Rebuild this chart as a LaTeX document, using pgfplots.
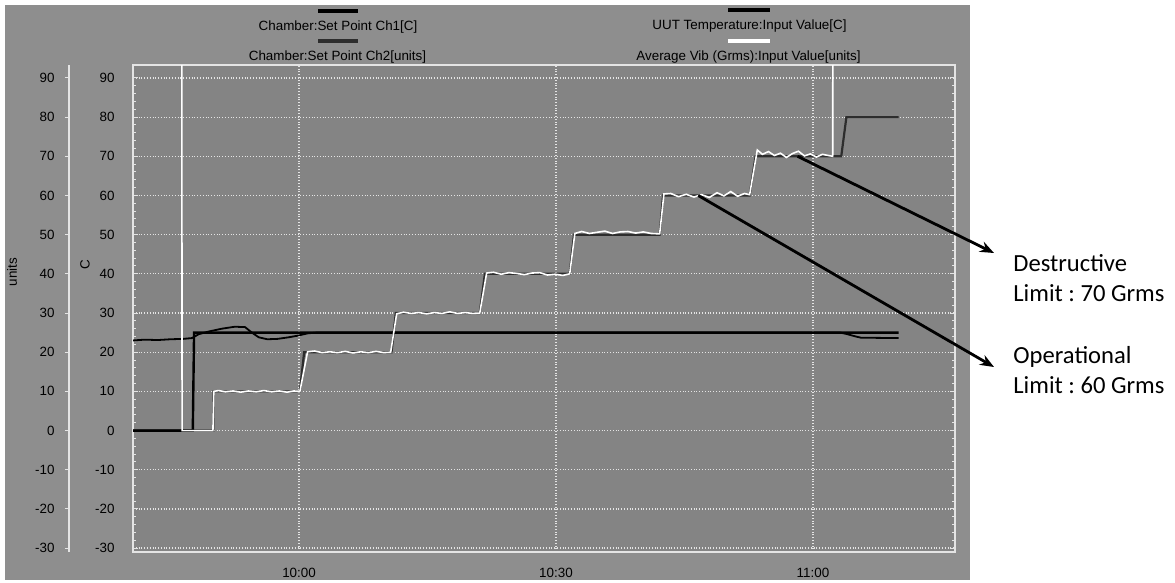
\documentclass[border=0pt]{standalone}
\usepackage{pgfplots}
\pgfplotsset{compat=1.18}
\usepackage{fontspec}
\setmainfont{Liberation Sans}
\newfontfamily\calib{Carlito}
\usetikzlibrary{arrows.meta}
\definecolor{panel}{RGB}{142,142,142}
\definecolor{plotbg}{RGB}{132,132,132}
\definecolor{gridw}{RGB}{228,228,228}
\definecolor{ch2}{RGB}{45,45,45}
\frenchspacing
\begin{document}
\begin{tikzpicture}
\path[use as bounding box] (0,0) rectangle (587.5bp,-291.5bp);
\fill[panel] (2.5bp,-2.5bp) rectangle (485bp,-290bp);
% units axis (left)
\begin{axis}[at={(34.5bp,-276bp)}, anchor=south west, scale only axis,
  width=0.5bp, height=243.5bp, xmin=0, xmax=1, ymin=-31, ymax=93.3,
  hide x axis, axis y line*=left,
  axis line style={gridw, line width=0.7bp},
  ytick={-30,-20,...,90}, tick align=outside, major tick length=2bp,
  tick style={gridw, line width=0.5bp},
  yticklabel style={font=\fontsize{6.7bp}{8bp}\selectfont, anchor=east, inner sep=0pt, xshift=-5bp},
  /pgf/number format/assume math mode=true]
\end{axis}
% main axis
\begin{axis}[at={(66.5bp,-276bp)}, anchor=south west, scale only axis,
  width=411bp, height=243.5bp,
  xmin=40.62, xmax=136.58, ymin=-31, ymax=93.3,
  axis background/.style={fill=plotbg},
  axis line style={gridw, line width=0.7bp},
  xtick={60,90,120}, xticklabels={10:00,10:30,11:00},
  ytick={-30,-20,...,90}, minor y tick num=4,
  grid=major, major grid style={gridw, densely dotted, line width=0.6bp},
  tick align=inside, major tick length=2.5bp, minor tick length=1.5bp,
  tick style={gridw, line width=0.5bp},
  xtick style={draw=none},
  ticklabel style={font=\fontsize{6.7bp}{8bp}\selectfont},
  yticklabel style={anchor=east, inner sep=0pt, xshift=-9bp},
  xticklabel style={anchor=north, inner sep=0pt, yshift=-8bp},
  /pgf/number format/assume math mode=true,
  clip=true]
% Chamber Set Point Ch2 [units]
\addplot[ch2, line width=1.1bp] coordinates {
(40.62,0) (50,0) (50,10) (60.1,10) (60.6,20) (70.8,20) (71.3,30) (81.1,30)
(81.7,40) (91.6,40) (92.1,50) (102.1,50) (102.5,60) (112.6,60) (113.3,70)
(123.3,70) (123.9,80) (130,80)};
% Chamber Set Point Ch1 [C]
\addplot[black, line width=1.2bp] coordinates {
(40.62,0) (47.6,0) (47.75,25) (130,25)};
% UUT Temperature [C]
\addplot[black, line width=0.9bp] coordinates {
(40.62,23.0) (42,23.2) (43.5,23.1) (45,23.3) (46.5,23.4) (47.5,23.6) (48.3,24.6)
(49.5,25.3) (51,26.0) (52.5,26.5) (53.7,26.4) (54.5,25.0) (55.3,23.8) (56.3,23.3)
(57.5,23.4) (58.8,23.8) (59.8,24.2) (61,24.8) (62,25) (123.2,25) (124,24.6)
(125,24) (125.6,23.7) (130,23.6)};
% Average Vib (Grms) [units]
\addplot[white, line width=0.8bp] coordinates {
(40.62,150) (46.3,150) (46.35,0) (49.95,0) (50.05,10) (50.6,10.2) (51.4,9.9)
(52.3,10.1) (53.2,9.8) (54.1,10.1) (55.0,9.9) (55.9,10.2) (56.8,9.9) (57.7,10.1)
(58.6,9.8) (59.4,10.1) (60.1,10) (61.0,20.1) (61.8,20.3) (62.7,19.9) (63.6,20.1)
(64.5,19.9) (65.4,20.2) (66.3,19.8) (67.2,20.1) (68.1,19.9) (69.0,20.2) (69.9,19.9)
(70.7,20) (71.4,29.8) (72.2,30.2) (73.1,29.9) (74.0,30.1) (74.9,29.8) (75.8,30.1)
(76.7,29.9) (77.6,30.3) (78.5,29.9) (79.4,30.1) (80.3,29.9) (81.1,30) (81.9,40.2)
(82.7,40.4) (83.6,39.9) (84.5,40.3) (85.4,40.1) (86.3,39.8) (87.2,40.2) (88.1,40.3)
(89.0,39.7) (89.9,39.9) (90.8,39.6) (91.6,40) (92.2,50.3) (93.0,50.8) (93.9,50.3)
(94.8,50.6) (95.7,50.9) (96.6,50.3) (97.5,50.7) (98.4,50.8) (99.3,50.4) (100.2,50.7)
(101.1,50.3) (102.1,50.2) (102.6,60.4) (103.4,60.5) (104.3,59.7) (105.2,60.3)
(106.1,59.6) (107.0,60.2) (107.9,59.5) (108.8,60.7) (109.6,59.9) (110.4,61.0)
(111.2,59.8) (112.0,60.5) (112.6,60.2) (113.5,71.6) (114.1,70.5) (114.8,71.2)
(115.5,70.2) (116.2,70.8) (116.9,69.7) (117.6,70.7) (118.3,71.3) (119.0,70.1)
(119.7,70.6) (120.4,69.8) (121.1,70.5) (121.8,70.2) (122.3,70) (122.35,150) (136.58,150)};
\coordinate (dstart) at (axis cs:118.2,70);
\coordinate (ostart) at (axis cs:106.6,60);
\end{axis}
% axis titles
\node[rotate=90, font=\fontsize{6.7bp}{8bp}\selectfont, inner sep=0pt] at (6bp,-136bp) {units};
\node[rotate=90, font=\fontsize{6.7bp}{8bp}\selectfont, inner sep=0pt] at (42.5bp,-132.5bp) {C};
% legend
\draw[black, line width=2bp] (159bp,-5.5bp) -- (179bp,-5.5bp);
\node[font=\fontsize{6.7bp}{8bp}\selectfont, inner sep=0pt] at (169bp,-13.5bp) {Chamber:Set Point Ch1[C]};
\draw[ch2, line width=2bp] (159bp,-20.5bp) -- (179bp,-20.5bp);
\node[font=\fontsize{6.7bp}{8bp}\selectfont, inner sep=0pt] at (168.75bp,-28.5bp) {Chamber:Set Point Ch2[units]};
\draw[black, line width=2bp] (364bp,-5bp) -- (385bp,-5bp);
\node[font=\fontsize{6.7bp}{8bp}\selectfont, inner sep=0pt] at (374.75bp,-13bp) {UUT Temperature:Input Value[C]};
\draw[white, line width=2bp] (364bp,-20.5bp) -- (385bp,-20.5bp);
\node[font=\fontsize{6.7bp}{8bp}\selectfont, inner sep=0pt] at (374.25bp,-28.5bp) {Average Vib (Grms):Input Value[units]};
% annotations
\draw[black, line width=1.4bp, -{Stealth[length=7bp, width=5.5bp]}] (dstart) -- (497bp,-126.5bp);
\draw[black, line width=1.4bp, -{Stealth[length=7bp, width=5.5bp]}] (ostart) -- (497bp,-183.5bp);
\node[anchor=base west, inner sep=0pt, font=\calib\fontsize{12.3bp}{15bp}\selectfont] at (506.5bp,-135.75bp) {Destructive};
\node[anchor=base west, inner sep=0pt, font=\calib\fontsize{12.3bp}{15bp}\selectfont] at (506.5bp,-150.75bp) {Limit : 70 Grms};
\node[anchor=base west, inner sep=0pt, font=\calib\fontsize{12.3bp}{15bp}\selectfont] at (506.5bp,-181.75bp) {Operational};
\node[anchor=base west, inner sep=0pt, font=\calib\fontsize{12.3bp}{15bp}\selectfont] at (506.5bp,-196.75bp) {Limit : 60 Grms};
\end{tikzpicture}
\end{document}
